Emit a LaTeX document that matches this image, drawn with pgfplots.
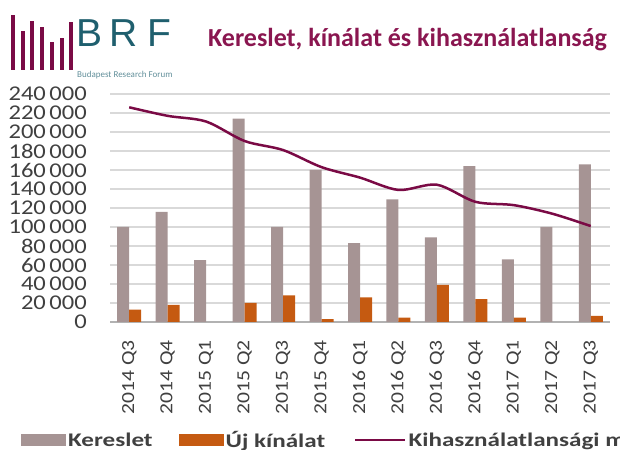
\documentclass[border=0pt]{standalone}
\usepackage{pgfplots}
\pgfplotsset{compat=1.18}
\usepackage{fontspec}
\setmainfont{Carlito}
\newfontfamily\tickfont[FakeStretch=1.17]{Carlito}
\newfontfamily\legfont[FakeStretch=1.3]{Carlito}
\newfontfamily\logofont{Liberation Sans}
\definecolor{kereslet}{HTML}{A69494}
\definecolor{ujk}{HTML}{C55A11}
\definecolor{kihasz}{HTML}{7A0A45}
\definecolor{titlec}{HTML}{8A1650}
\definecolor{brf}{HTML}{1F5F6E}
\definecolor{gridc}{HTML}{D9D9D9}
\definecolor{txt}{HTML}{404040}
\begin{document}
\begin{tikzpicture}
\useasboundingbox (0bp,0bp) rectangle (620bp,450bp);
\begin{scope}[x=1bp,y=1bp]
\foreach \x/\t in {13.3/15, 22.7/30.7, 32.3/20.7, 42.3/26.7, 52.3/41.7, 61.7/38.3, 71/21.7}
  \draw[kihasz, line width=4bp] (\x,380) -- (\x,450-\t);
\foreach \x/\l in {76/B, 109.5/R, 147/F}
  \node[anchor=base west, inner sep=0, text=brf, font=\logofont\fontsize{39bp}{39bp}\selectfont] at (\x,403.3) {\l};
\node[anchor=base west, inner sep=0, text=brf!70, font=\fontsize{9bp}{10bp}\selectfont] at (77,373) {Budapest Research Forum};
\node[anchor=base west, inner sep=0, text=titlec, font=\bfseries\fontsize{26bp}{28bp}\selectfont] at (208,403.3) {Kereslet, kínálat és kihasználatlanság};
\end{scope}
\begin{axis}[
  at={(110bp,128bp)}, anchor=south west, scale only axis,
  width=500bp, height=228bp,
  xmin=-0.5, xmax=12.5, ymin=0, ymax=240000,
  axis lines*=left,
  y axis line style={draw=none},
  x axis line style={draw=black!30, line width=1.5bp},
  ytick={0,20000,40000,60000,80000,100000,120000,140000,160000,180000,200000,220000,240000},
  yticklabels={0,20\thinspace000,40\thinspace000,60\thinspace000,80\thinspace000,100\thinspace000,120\thinspace000,140\thinspace000,160\thinspace000,180\thinspace000,200\thinspace000,220\thinspace000,240\thinspace000},
  scaled y ticks=false,
  ymajorgrids, grid style={gridc, line width=1.5bp},
  major tick length=0pt,
  xtick={0,...,12},
  xticklabels={2014 Q3,2014 Q4,2015 Q1,2015 Q2,2015 Q3,2015 Q4,2016 Q1,2016 Q2,2016 Q3,2016 Q4,2017 Q1,2017 Q2,2017 Q3},
  x tick label style={rotate=90, anchor=east, font=\tickfont\fontsize{18.5bp}{20bp}\selectfont, text=txt, inner sep=0pt},
  xticklabel shift=18bp,
  y tick label style={font=\tickfont\fontsize{21bp}{22bp}\selectfont, text=txt, inner sep=0pt},
  yticklabel shift=23bp,
  legend columns=3,
  legend style={draw=none, fill=none, at={(-0.184,-0.5175)}, anchor=west,
    font=\legfont\bfseries\fontsize{19.3bp}{21bp}\selectfont, text=txt,
    /tikz/column 2/.style={column sep=24bp},
    /tikz/column 4/.style={column sep=27bp}},
]
\addplot[ybar, bar width=12bp, bar shift=-6bp, fill=kereslet, draw=none,
  legend image code/.code={\fill[kereslet] (0bp,-6bp) rectangle (45bp,6bp);}]
  coordinates {(0,100000) (1,116000) (2,65000) (3,214000) (4,100000) (5,160000) (6,83000) (7,129000) (8,89000) (9,164000) (10,66000) (11,100000) (12,166000)};
\addlegendentry{Kereslet}
\addplot[ybar, bar width=12bp, bar shift=6bp, fill=ujk, draw=none,
  legend image code/.code={\fill[ujk] (0bp,-6bp) rectangle (45bp,6bp);}]
  coordinates {(0,13000) (1,18000) (2,0) (3,20000) (4,28000) (5,3000) (6,26000) (7,4500) (8,39000) (9,24000) (10,4500) (11,0) (12,6500)};
\addlegendentry{Új kínálat}
\addplot[smooth, kihasz, line width=2.5bp, mark=none,
  legend image code/.code={\draw[kihasz, line width=2.5bp] (0bp,0bp) -- (50bp,0bp);}]
  coordinates {(0,226000) (1,217000) (2,211000) (3,190500) (4,181000) (5,163000) (6,152000) (7,139000) (8,144500) (9,126500) (10,123000) (11,114000) (12,101000)};
\addlegendentry{Kihasználatlansági mutató}
\end{axis}
\end{tikzpicture}
\end{document}
